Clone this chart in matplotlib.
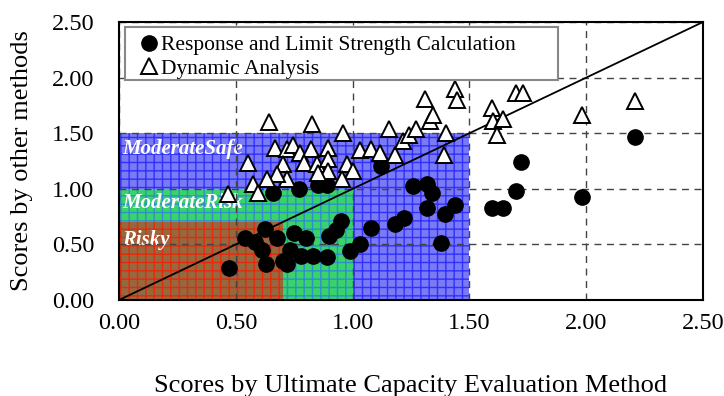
import matplotlib
matplotlib.use("Agg")
import matplotlib.pyplot as plt
from matplotlib.patches import Rectangle

plt.rcParams['font.family'] = ['Liberation Serif', 'DejaVu Serif']
plt.rcParams['hatch.linewidth'] = 1.0

# Response and Limit Strength Calculation
calc_x = [0.47, 0.54, 0.58, 0.61, 0.625, 0.63, 0.675, 0.70, 0.72, 0.73,
          0.75, 0.80, 0.78, 0.83, 0.89, 0.90, 0.93, 0.95, 0.99, 1.03,
          1.08, 1.18, 1.22, 1.26, 1.32, 1.34, 1.32, 1.395, 1.44, 1.38,
          1.12, 0.66, 0.77, 0.85, 0.89, 1.72, 1.70, 1.595, 1.645, 1.98,
          2.21]
calc_y = [0.29, 0.56, 0.52, 0.45, 0.635, 0.32, 0.56, 0.35, 0.32, 0.45,
          0.60, 0.56, 0.40, 0.40, 0.39, 0.575, 0.63, 0.71, 0.44, 0.50,
          0.65, 0.68, 0.74, 1.025, 1.04, 0.965, 0.83, 0.77, 0.85, 0.515,
          1.205, 0.965, 1.00, 1.03, 1.03, 1.24, 0.98, 0.83, 0.83, 0.93,
          1.47]

# Dynamic Analysis
dyn_x = [0.64, 0.825, 0.96, 1.157, 0.553, 0.668, 0.72, 0.746, 0.775, 0.82,
         0.896, 0.70, 0.79, 0.846, 0.896, 0.896, 0.853, 0.975, 1.00, 0.953,
         0.72, 0.675, 0.632, 0.575, 0.596, 1.03, 1.08, 1.117, 1.18, 1.215,
         1.24, 1.27, 1.31, 1.33, 1.345, 1.44, 1.447, 1.40, 1.39, 1.595,
         1.60, 1.645, 1.62, 1.70, 1.73, 1.98, 2.21, 0.468]
dyn_y = [1.60, 1.585, 1.505, 1.535, 1.235, 1.37, 1.355, 1.39, 1.325, 1.355,
         1.37, 1.22, 1.23, 1.22, 1.265, 1.16, 1.145, 1.22, 1.16, 1.085,
         1.085, 1.13, 1.085, 1.04, 0.965, 1.345, 1.36, 1.325, 1.30, 1.43,
         1.485, 1.54, 1.805, 1.61, 1.66, 1.90, 1.80, 1.505, 1.305, 1.73,
         1.61, 1.625, 1.48, 1.865, 1.865, 1.665, 1.79, 0.95]

# zone limits (x and y extent from the origin)
zone_names = ['ModerateSafe', 'ModerateRisk', 'Risky']
zone_limits = [1.5, 1.0, 0.7]
zone_faces = ['#7a7af4', '#38d468', '#96683e']
zone_hatch = ['#3030ff', '#2d8fd0', '#e8280e']
zone_label_y = [1.36, 0.87, 0.54]

ticks = [0.0, 0.5, 1.0, 1.5, 2.0, 2.5]

fig = plt.figure(figsize=(7.24, 3.96), dpi=100)
ax = fig.add_axes([0.1644, 0.2424, 0.8066, 0.7020])

for lim, fc, hc in zip(zone_limits, zone_faces, zone_hatch):
    ax.add_patch(Rectangle((0, 0), lim, lim, facecolor=fc, edgecolor=hc,
                           hatch='++', linewidth=0, zorder=1))

for name, ly in zip(zone_names, zone_label_y):
    ax.text(0.015, ly, name, color='white', fontsize=15, fontweight='bold',
            fontstyle='italic', va='center', ha='left', zorder=2)

ax.set_xlim(0, 2.5)
ax.set_ylim(0, 2.5)
ax.set_xticks(ticks)
ax.set_yticks(ticks)
ax.set_xticklabels(['%.2f' % t for t in ticks])
ax.set_yticklabels(['%.2f' % t for t in ticks])
ax.tick_params(length=0, labelsize=17.5)
ax.tick_params(axis='x', pad=9)
ax.tick_params(axis='y', pad=18)
ax.grid(True, color='#444444', linestyle=(0, (5, 4)), linewidth=1.0, zorder=3)
ax.set_axisbelow(False)
for sp in ax.spines.values():
    sp.set_linewidth(1.5)
    sp.set_zorder(6)

ax.plot([0, 2.5], [0, 2.5], color='black', linewidth=1.3, zorder=3.5)

ax.plot(calc_x, calc_y, 'o', color='black', markersize=11, linestyle='none',
        zorder=4, label='Response and Limit Strength Calculation')
ax.plot(dyn_x, dyn_y, '^', markerfacecolor='white', markeredgecolor='black',
        markeredgewidth=1.4, markersize=11.5, linestyle='none', zorder=5,
        label='Dynamic Analysis')

# legend box drawn separately so it can be wider than its text
ax.add_patch(Rectangle((0.0103, 0.791), 0.7414, 0.191, transform=ax.transAxes,
                       facecolor='white', edgecolor='#888888', linewidth=1.5,
                       zorder=6.5))
leg = ax.legend(loc='upper left', bbox_to_anchor=(0.037, 0.952),
                fontsize=15.5, frameon=False, handlelength=0.75,
                handletextpad=0.2, borderpad=0, labelspacing=0.14,
                borderaxespad=0)
leg.set_zorder(7)

ax.set_xlabel('Scores by Ultimate Capacity Evaluation Method', fontsize=19,
              labelpad=30)
ax.set_ylabel('Scores by other methods', fontsize=19, labelpad=13)

fig.savefig('out.png', dpi=100)
